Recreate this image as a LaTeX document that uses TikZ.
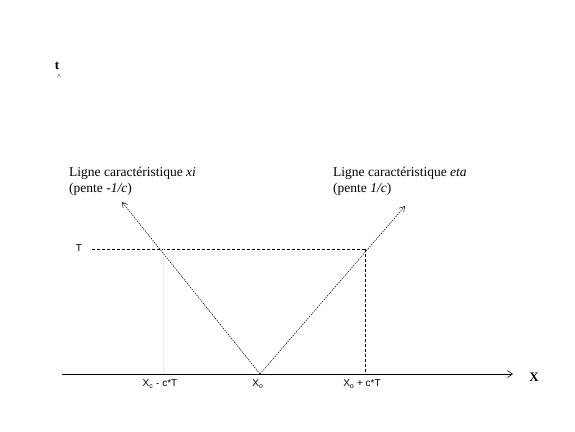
\documentclass[tikz,border=0pt]{standalone}
\usepackage{fontspec}
\setmainfont{Liberation Serif}
\setsansfont{Liberation Sans}
\usetikzlibrary{arrows.meta}
\begin{document}
\begin{tikzpicture}[x=1pt,y=-1pt,
  lbl/.style={font=\fontsize{13.5}{16}\selectfont, align=left, inner sep=0pt, anchor=west},
  tick/.style={font=\sffamily\fontsize{10}{12}\selectfont, inner sep=0pt},
  charline/.style={line width=0.5pt, dash pattern=on 1.5pt off 1pt, -{Straight Barb[length=5pt,width=6pt]}},
  guide/.style={line width=0.5pt, dash pattern=on 3pt off 2pt},
  faint/.style={line width=0.5pt, dash pattern=on 1pt off 1pt, black!15}]
\useasboundingbox (0,0) rectangle (575,431);
\coordinate (x0) at (260,374);
\coordinate (axs) at (62,374);
\coordinate (axe) at (513,374);
\coordinate (xiend) at (122,202);
\coordinate (etaend) at (405,206);
\coordinate (tl) at (92,249);
\coordinate (pr) at (365,249);
\coordinate (pl) at (163,249);
\coordinate (br) at (365,374);
\coordinate (bl) at (163,374);
\draw[line width=0.6pt, -{Straight Barb[length=5pt,width=7pt]}] (axs) -- (axe);
\draw[guide] (tl) -- (pr);
\draw[guide] (pr) -- (br);
\draw[faint] (pl) -- (bl);
\draw[charline] (x0) -- (xiend);
\draw[charline] (x0) -- (etaend);
\node[font=\fontsize{13}{15}\selectfont\bfseries, inner sep=0pt] (t) at (57,66) {t};
\node[font=\fontsize{8}{9}\selectfont, inner sep=0pt] (caret) at (59,77) {\^{}};
\node[font=\fontsize{13}{15}\selectfont\bfseries, inner sep=0pt] (X) at (534,377) {X};
\node[tick] (T) at (79,248) {T};
\node[lbl] (lxi) at (69,181) {Ligne caractéristique \textit{xi}\\(pente -\textit{1/c})};
\node[lbl] (leta) at (333,181) {Ligne caractéristique \textit{eta}\\(pente \textit{1/c})};
\node[tick] (xm) at (160,384) {X\textsubscript{c} - c*T};
\node[tick] (xo) at (258,384) {X\textsubscript{o}};
\node[tick] (xp) at (362,384) {X\textsubscript{o} + c*T};
\end{tikzpicture}
\end{document}
